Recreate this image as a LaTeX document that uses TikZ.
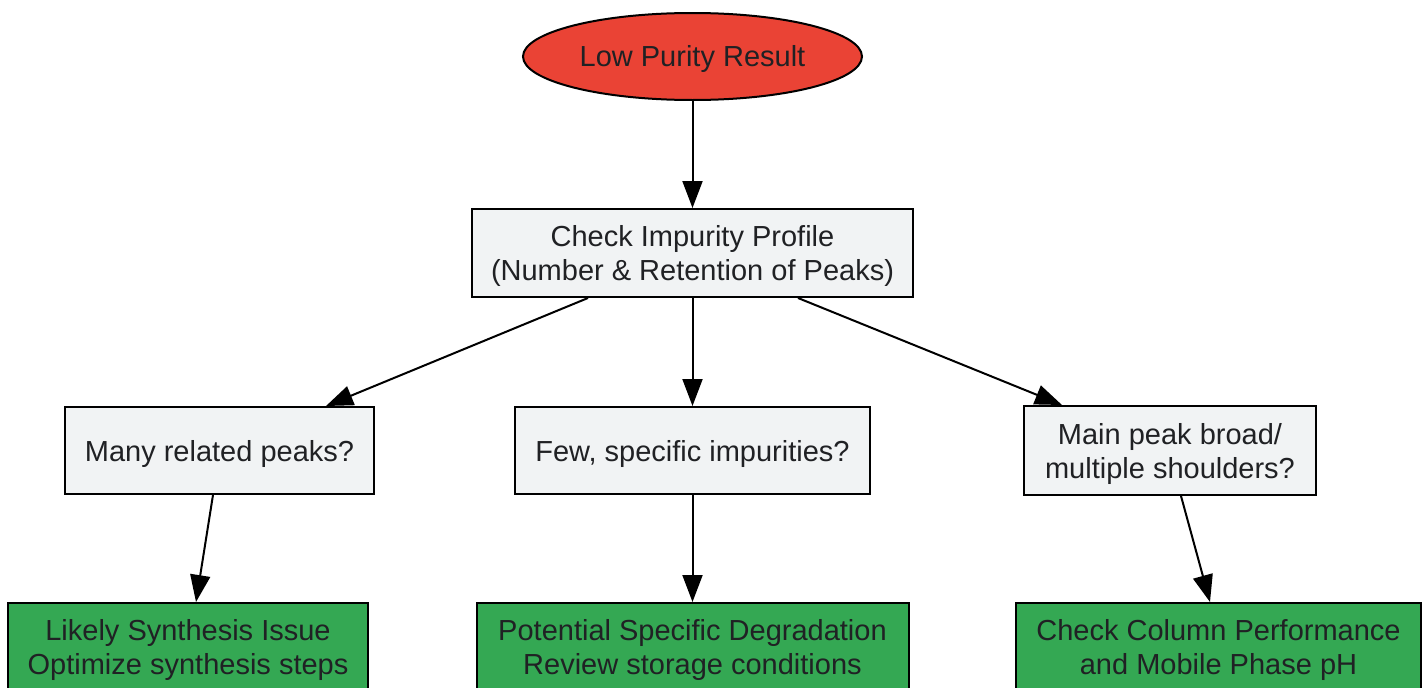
\documentclass[tikz,border=0pt]{standalone}
\usepackage{fontspec}
\setmainfont{Liberation Sans}
\usetikzlibrary{arrows.meta,shapes.geometric}
\definecolor{redfill}{HTML}{EA4335}
\definecolor{greyfill}{HTML}{F1F3F4}
\definecolor{greenfill}{HTML}{34A853}
\definecolor{txt}{HTML}{202124}
\begin{document}
\begin{tikzpicture}[x=1pt,y=-1pt,
  every node/.style={font=\fontsize{29}{34}\selectfont, text=txt, align=center, inner sep=0pt},
  boxgrey/.style={draw=black, line width=2pt, fill=greyfill, rectangle},
  boxgreen/.style={draw=black, line width=2pt, fill=greenfill, rectangle},
  txtdown/.style={label={[yshift=-3pt]center:#1}},
  conn/.style={draw=black, line width=2pt, -{Triangle[length=27pt,width=20pt]}}
]
\useasboundingbox (0,0) rectangle (1428,688);
\node[draw=black, line width=2pt, fill=redfill, ellipse, minimum width=339pt, minimum height=87pt, txtdown={Low Purity Result}] (low) at (692.5,56.5) {};
\node[boxgrey, minimum width=441pt, minimum height=88pt, txtdown={Check Impurity Profile\\(Number \& Retention of Peaks)}] (chk) at (692.5,253) {};
\node[boxgrey, minimum width=309pt, minimum height=87pt, txtdown={Many related peaks?}] (many) at (219.5,450.5) {};
\node[boxgrey, minimum width=355pt, minimum height=87pt, txtdown={Few, specific impurities?}] (few) at (692.5,450.5) {};
\node[boxgrey, minimum width=292pt, minimum height=89pt, txtdown={Main peak broad/\\multiple shoulders?}] (main) at (1170,450.5) {};
\node[boxgreen, minimum width=360pt, minimum height=88pt, txtdown={Likely Synthesis Issue\\Optimize synthesis steps}] (syn) at (188,647) {};
\node[boxgreen, minimum width=432pt, minimum height=88pt, txtdown={Potential Specific Degradation\\Review storage conditions}] (deg) at (692.5,647) {};
\node[boxgreen, minimum width=405pt, minimum height=88pt, txtdown={Check Column Performance\\and Mobile Phase pH}] (col) at (1218.5,647) {};
\draw[conn] (low.south) -- (chk.north);
\draw[conn] ([xshift=-104.5pt]chk.south) -- ([xshift=106.5pt]many.north);
\draw[conn] (chk.south) -- (few.north);
\draw[conn] ([xshift=105.5pt]chk.south) -- ([xshift=-108pt]main.north);
\draw[conn] ([xshift=-6.5pt]many.south) -- ([xshift=8pt]syn.north);
\draw[conn] (few.south) -- (deg.north);
\draw[conn] ([xshift=11pt]main.south) -- ([xshift=-8.5pt]col.north);
\end{tikzpicture}
\end{document}
